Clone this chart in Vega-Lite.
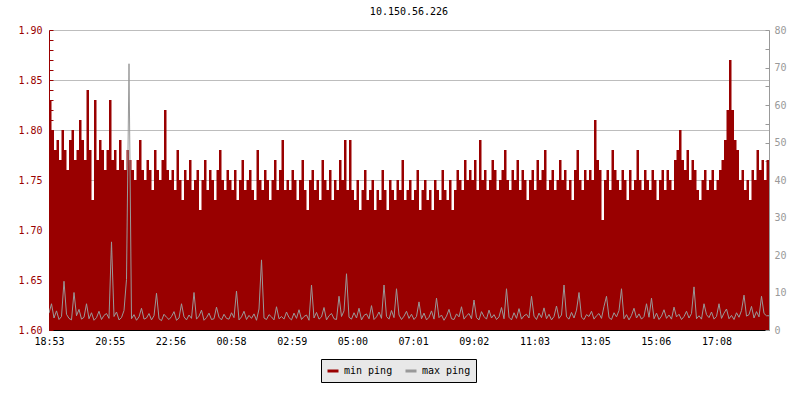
{
"$schema": "https://vega.github.io/schema/vega-lite/v6.json",
"width": 720,
"height": 300,
"padding": {"left": 17, "top": 7, "right": 5, "bottom": 5},
"background": "#ffffff",
"title": {"text": "10.150.56.226", "font": "DejaVu Sans Mono", "fontSize": 10, "fontWeight": "normal", "color": "#000000", "offset": 8},
"config": {
  "view": {"stroke": null},
  "font": "DejaVu Sans Mono",
  "axis": {"labelFont": "DejaVu Sans Mono", "labelFontSize": 10, "title": null}
},
"data": {"values": [
{"t":0,"mn":1.83,"mx":4.5},{"t":1,"mn":1.80,"mx":7},{"t":2,"mn":1.78,"mx":3.2},{"t":3,"mn":1.79,"mx":5.1},{"t":4,"mn":1.77,"mx":2.8},{"t":5,"mn":1.80,"mx":3.6},{"t":6,"mn":1.78,"mx":13},{"t":7,"mn":1.76,"mx":4.2},{"t":8,"mn":1.79,"mx":3.1},{"t":9,"mn":1.80,"mx":2.7},{"t":10,"mn":1.77,"mx":10},{"t":11,"mn":1.78,"mx":3.8},{"t":12,"mn":1.81,"mx":5.5},{"t":13,"mn":1.79,"mx":2.9},{"t":14,"mn":1.77,"mx":3.4},{"t":15,"mn":1.84,"mx":7},{"t":16,"mn":1.78,"mx":3.0},{"t":17,"mn":1.73,"mx":4.6},{"t":18,"mn":1.83,"mx":2.6},{"t":19,"mn":1.77,"mx":3.3},{"t":20,"mn":1.79,"mx":5.0},{"t":21,"mn":1.78,"mx":2.8},{"t":22,"mn":1.76,"mx":3.9},{"t":23,"mn":1.78,"mx":4.4},
{"t":24,"mn":1.83,"mx":3.1},{"t":25,"mn":1.77,"mx":23.5},{"t":26,"mn":1.78,"mx":3.6},{"t":27,"mn":1.76,"mx":4.8},{"t":28,"mn":1.79,"mx":2.7},{"t":29,"mn":1.77,"mx":3.3},{"t":30,"mn":1.76,"mx":5.2},{"t":31,"mn":1.78,"mx":13.5},{"t":32,"mn":1.77,"mx":71},{"t":33,"mn":1.76,"mx":3.0},{"t":34,"mn":1.75,"mx":4.1},{"t":35,"mn":1.77,"mx":2.6},{"t":36,"mn":1.79,"mx":3.5},{"t":37,"mn":1.76,"mx":5.8},{"t":38,"mn":1.75,"mx":2.9},{"t":39,"mn":1.77,"mx":3.2},{"t":40,"mn":1.76,"mx":4.4},{"t":41,"mn":1.74,"mx":2.7},{"t":42,"mn":1.78,"mx":3.8},{"t":43,"mn":1.76,"mx":9.8},{"t":44,"mn":1.75,"mx":3.0},{"t":45,"mn":1.77,"mx":2.5},{"t":46,"mn":1.82,"mx":4.2},{"t":47,"mn":1.76,"mx":3.4},
{"t":48,"mn":1.75,"mx":2.8},{"t":49,"mn":1.76,"mx":3.6},{"t":50,"mn":1.74,"mx":4.9},{"t":51,"mn":1.78,"mx":2.6},{"t":52,"mn":1.75,"mx":3.2},{"t":53,"mn":1.73,"mx":7},{"t":54,"mn":1.76,"mx":3.5},{"t":55,"mn":1.75,"mx":2.7},{"t":56,"mn":1.77,"mx":4.0},{"t":57,"mn":1.74,"mx":3.1},{"t":58,"mn":1.75,"mx":10},{"t":59,"mn":1.76,"mx":2.9},{"t":60,"mn":1.72,"mx":3.7},{"t":61,"mn":1.75,"mx":5.3},{"t":62,"mn":1.77,"mx":2.6},{"t":63,"mn":1.74,"mx":3.3},{"t":64,"mn":1.76,"mx":4.5},{"t":65,"mn":1.75,"mx":2.8},{"t":66,"mn":1.73,"mx":3.0},{"t":67,"mn":1.76,"mx":6.1},{"t":68,"mn":1.78,"mx":3.4},{"t":69,"mn":1.75,"mx":2.7},{"t":70,"mn":1.74,"mx":4.2},{"t":71,"mn":1.76,"mx":3.1},
{"t":72,"mn":1.75,"mx":2.9},{"t":73,"mn":1.74,"mx":4.6},{"t":74,"mn":1.76,"mx":3.3},{"t":75,"mn":1.73,"mx":10.4},{"t":76,"mn":1.75,"mx":2.7},{"t":77,"mn":1.77,"mx":3.5},{"t":78,"mn":1.74,"mx":5.0},{"t":79,"mn":1.75,"mx":2.8},{"t":80,"mn":1.76,"mx":3.9},{"t":81,"mn":1.74,"mx":3.1},{"t":82,"mn":1.73,"mx":4.3},{"t":83,"mn":1.78,"mx":2.6},{"t":84,"mn":1.75,"mx":5.6},{"t":85,"mn":1.74,"mx":18.7},{"t":86,"mn":1.76,"mx":3.2},{"t":87,"mn":1.75,"mx":2.8},{"t":88,"mn":1.73,"mx":4.1},{"t":89,"mn":1.75,"mx":3.5},{"t":90,"mn":1.77,"mx":2.7},{"t":91,"mn":1.74,"mx":6.2},{"t":92,"mn":1.76,"mx":3.0},{"t":93,"mn":1.79,"mx":3.6},{"t":94,"mn":1.74,"mx":2.9},{"t":95,"mn":1.75,"mx":4.8},
{"t":96,"mn":1.74,"mx":3.3},{"t":97,"mn":1.76,"mx":2.7},{"t":98,"mn":1.75,"mx":4.5},{"t":99,"mn":1.73,"mx":3.1},{"t":100,"mn":1.75,"mx":5.4},{"t":101,"mn":1.77,"mx":2.8},{"t":102,"mn":1.74,"mx":3.6},{"t":103,"mn":1.72,"mx":4.0},{"t":104,"mn":1.75,"mx":2.6},{"t":105,"mn":1.76,"mx":12},{"t":106,"mn":1.74,"mx":3.2},{"t":107,"mn":1.75,"mx":4.7},{"t":108,"mn":1.73,"mx":2.9},{"t":109,"mn":1.77,"mx":3.5},{"t":110,"mn":1.75,"mx":6.0},{"t":111,"mn":1.74,"mx":2.7},{"t":112,"mn":1.76,"mx":3.8},{"t":113,"mn":1.73,"mx":4.4},{"t":114,"mn":1.75,"mx":3.0},{"t":115,"mn":1.74,"mx":2.8},{"t":116,"mn":1.77,"mx":9},{"t":117,"mn":1.75,"mx":3.6},{"t":118,"mn":1.79,"mx":5.1},{"t":119,"mn":1.74,"mx":15},
{"t":120,"mn":1.79,"mx":3.4},{"t":121,"mn":1.74,"mx":2.9},{"t":122,"mn":1.73,"mx":4.6},{"t":123,"mn":1.75,"mx":3.2},{"t":124,"mn":1.72,"mx":5.8},{"t":125,"mn":1.74,"mx":2.7},{"t":126,"mn":1.76,"mx":3.9},{"t":127,"mn":1.73,"mx":4.3},{"t":128,"mn":1.74,"mx":3.0},{"t":129,"mn":1.75,"mx":6.5},{"t":130,"mn":1.72,"mx":2.8},{"t":131,"mn":1.74,"mx":3.5},{"t":132,"mn":1.73,"mx":4.8},{"t":133,"mn":1.76,"mx":3.1},{"t":134,"mn":1.74,"mx":12},{"t":135,"mn":1.72,"mx":3.6},{"t":136,"mn":1.75,"mx":2.9},{"t":137,"mn":1.74,"mx":5.2},{"t":138,"mn":1.73,"mx":3.3},{"t":139,"mn":1.75,"mx":11},{"t":140,"mn":1.74,"mx":4.0},{"t":141,"mn":1.77,"mx":2.8},{"t":142,"mn":1.73,"mx":3.7},{"t":143,"mn":1.74,"mx":5.0},
{"t":144,"mn":1.75,"mx":3.1},{"t":145,"mn":1.73,"mx":4.2},{"t":146,"mn":1.74,"mx":2.8},{"t":147,"mn":1.76,"mx":3.6},{"t":148,"mn":1.72,"mx":7.5},{"t":149,"mn":1.74,"mx":3.0},{"t":150,"mn":1.75,"mx":4.5},{"t":151,"mn":1.73,"mx":2.7},{"t":152,"mn":1.74,"mx":3.4},{"t":153,"mn":1.72,"mx":5.1},{"t":154,"mn":1.75,"mx":2.9},{"t":155,"mn":1.74,"mx":8.5},{"t":156,"mn":1.73,"mx":3.3},{"t":157,"mn":1.76,"mx":4.0},{"t":158,"mn":1.74,"mx":2.6},{"t":159,"mn":1.73,"mx":3.7},{"t":160,"mn":1.75,"mx":5.5},{"t":161,"mn":1.72,"mx":3.0},{"t":162,"mn":1.74,"mx":2.8},{"t":163,"mn":1.76,"mx":4.3},{"t":164,"mn":1.75,"mx":3.5},{"t":165,"mn":1.74,"mx":6.2},{"t":166,"mn":1.77,"mx":2.9},{"t":167,"mn":1.75,"mx":3.8},
{"t":168,"mn":1.76,"mx":4.4},{"t":169,"mn":1.75,"mx":3.0},{"t":170,"mn":1.77,"mx":8},{"t":171,"mn":1.74,"mx":3.3},{"t":172,"mn":1.79,"mx":2.7},{"t":173,"mn":1.75,"mx":4.9},{"t":174,"mn":1.76,"mx":3.6},{"t":175,"mn":1.74,"mx":2.9},{"t":176,"mn":1.75,"mx":5.3},{"t":177,"mn":1.77,"mx":3.2},{"t":178,"mn":1.76,"mx":4.1},{"t":179,"mn":1.74,"mx":2.8},{"t":180,"mn":1.75,"mx":3.5},{"t":181,"mn":1.76,"mx":6.0},{"t":182,"mn":1.78,"mx":3.0},{"t":183,"mn":1.75,"mx":11},{"t":184,"mn":1.74,"mx":3.4},{"t":185,"mn":1.76,"mx":2.7},{"t":186,"mn":1.75,"mx":4.6},{"t":187,"mn":1.77,"mx":3.1},{"t":188,"mn":1.74,"mx":5.7},{"t":189,"mn":1.76,"mx":2.9},{"t":190,"mn":1.75,"mx":3.8},{"t":191,"mn":1.73,"mx":4.2},
{"t":192,"mn":1.75,"mx":3.2},{"t":193,"mn":1.76,"mx":9},{"t":194,"mn":1.74,"mx":3.7},{"t":195,"mn":1.77,"mx":2.8},{"t":196,"mn":1.75,"mx":4.5},{"t":197,"mn":1.76,"mx":3.3},{"t":198,"mn":1.78,"mx":5.9},{"t":199,"mn":1.74,"mx":3.0},{"t":200,"mn":1.75,"mx":4.2},{"t":201,"mn":1.76,"mx":2.7},{"t":202,"mn":1.74,"mx":3.6},{"t":203,"mn":1.75,"mx":6.4},{"t":204,"mn":1.77,"mx":3.1},{"t":205,"mn":1.75,"mx":4.0},{"t":206,"mn":1.76,"mx":12},{"t":207,"mn":1.74,"mx":3.5},{"t":208,"mn":1.75,"mx":2.9},{"t":209,"mn":1.73,"mx":4.7},{"t":210,"mn":1.76,"mx":3.2},{"t":211,"mn":1.78,"mx":5.3},{"t":212,"mn":1.75,"mx":10},{"t":213,"mn":1.74,"mx":3.4},{"t":214,"mn":1.76,"mx":2.8},{"t":215,"mn":1.75,"mx":4.1},
{"t":216,"mn":1.76,"mx":3.6},{"t":217,"mn":1.75,"mx":5.0},{"t":218,"mn":1.81,"mx":2.9},{"t":219,"mn":1.77,"mx":3.8},{"t":220,"mn":1.76,"mx":4.4},{"t":221,"mn":1.71,"mx":3.1},{"t":222,"mn":1.75,"mx":6.3},{"t":223,"mn":1.76,"mx":9},{"t":224,"mn":1.74,"mx":3.3},{"t":225,"mn":1.78,"mx":2.8},{"t":226,"mn":1.76,"mx":4.6},{"t":227,"mn":1.75,"mx":3.5},{"t":228,"mn":1.74,"mx":5.2},{"t":229,"mn":1.76,"mx":11},{"t":230,"mn":1.75,"mx":3.0},{"t":231,"mn":1.73,"mx":4.1},{"t":232,"mn":1.76,"mx":2.7},{"t":233,"mn":1.74,"mx":3.9},{"t":234,"mn":1.75,"mx":5.8},{"t":235,"mn":1.78,"mx":3.2},{"t":236,"mn":1.75,"mx":4.3},{"t":237,"mn":1.74,"mx":2.9},{"t":238,"mn":1.76,"mx":3.6},{"t":239,"mn":1.75,"mx":7},
{"t":240,"mn":1.74,"mx":3.4},{"t":241,"mn":1.76,"mx":8.5},{"t":242,"mn":1.75,"mx":3.0},{"t":243,"mn":1.73,"mx":4.5},{"t":244,"mn":1.75,"mx":2.8},{"t":245,"mn":1.76,"mx":3.7},{"t":246,"mn":1.74,"mx":5.4},{"t":247,"mn":1.76,"mx":3.1},{"t":248,"mn":1.75,"mx":4.0},{"t":249,"mn":1.74,"mx":2.9},{"t":250,"mn":1.77,"mx":6.1},{"t":251,"mn":1.78,"mx":3.5},{"t":252,"mn":1.80,"mx":4.2},{"t":253,"mn":1.77,"mx":2.8},{"t":254,"mn":1.76,"mx":3.6},{"t":255,"mn":1.78,"mx":5.0},{"t":256,"mn":1.75,"mx":3.2},{"t":257,"mn":1.77,"mx":4.4},{"t":258,"mn":1.76,"mx":11.5},{"t":259,"mn":1.74,"mx":3.0},{"t":260,"mn":1.73,"mx":3.8},{"t":261,"mn":1.75,"mx":2.9},{"t":262,"mn":1.76,"mx":7},{"t":263,"mn":1.74,"mx":4.1},
{"t":264,"mn":1.75,"mx":3.3},{"t":265,"mn":1.76,"mx":4.8},{"t":266,"mn":1.74,"mx":2.9},{"t":267,"mn":1.75,"mx":3.6},{"t":268,"mn":1.76,"mx":7},{"t":269,"mn":1.77,"mx":3.1},{"t":270,"mn":1.79,"mx":4.5},{"t":271,"mn":1.82,"mx":5.6},{"t":272,"mn":1.87,"mx":3.0},{"t":273,"mn":1.82,"mx":3.9},{"t":274,"mn":1.79,"mx":2.8},{"t":275,"mn":1.78,"mx":4.6},{"t":276,"mn":1.75,"mx":3.4},{"t":277,"mn":1.76,"mx":5.2},{"t":278,"mn":1.74,"mx":9.3},{"t":279,"mn":1.75,"mx":3.7},{"t":280,"mn":1.73,"mx":4.1},{"t":281,"mn":1.76,"mx":6.3},{"t":282,"mn":1.75,"mx":3.2},{"t":283,"mn":1.78,"mx":4.9},{"t":284,"mn":1.76,"mx":3.5},{"t":285,"mn":1.77,"mx":9},{"t":286,"mn":1.75,"mx":4.4},{"t":287,"mn":1.77,"mx":3.8},{"t":288,"mn":1.77,"mx":3.8}
]},
"layer": [
  {
    "mark": {"type": "area", "interpolate": "step-after", "clip": true},
    "encoding": {
      "x": {"field": "t", "type": "quantitative",
        "scale": {"domain": [0, 288], "nice": false, "zero": false},
        "axis": {
          "values": [0, 24.27, 48.55, 72.82, 97.09, 121.36, 145.64, 169.91, 194.18, 218.45, 242.73, 267],
          "labelExpr": "['18:53','20:55','22:56','00:58','02:59','05:00','07:01','09:02','11:03','13:05','15:06','17:08'][round(datum.value/24.27)]",
          "grid": false, "domainColor": "#000000", "tickColor": "#000000", "labelColor": "#000000",
          "tickSize": -5, "labelPadding": 11, "labelFlush": false, "labelOverlap": false
        }
      },
      "y": {"field": "mn", "type": "quantitative",
        "scale": {"domain": [1.6, 1.9], "nice": false, "zero": false},
        "axis": {
          "orient": "left",
          "values": [1.6,1.61,1.62,1.63,1.64,1.65,1.66,1.67,1.68,1.69,1.7,1.71,1.72,1.73,1.74,1.75,1.76,1.77,1.78,1.79,1.8,1.81,1.82,1.83,1.84,1.85,1.86,1.87,1.88,1.89,1.9],
          "format": ".2f",
          "labelExpr": "round(datum.value*100) % 5 == 0 ? datum.label : ''",
          "grid": true, "gridColor": "#bdbdbd",
          "gridOpacity": {"condition": {"test": "round(datum.value*100) % 5 == 0", "value": 1}, "value": 0},
          "domainColor": "#990000", "tickColor": "#990000", "labelColor": "#990000",
          "tickSize": -4, "labelPadding": 11, "labelOverlap": false
        }
      },
      "y2": {"datum": 1.6},
      "color": {"datum": "min ping", "type": "nominal",
        "scale": {"domain": ["min ping", "max ping"], "range": ["#990000", "#999999"]},
        "legend": {
          "title": null, "orient": "none", "legendX": 272, "legendY": 329, "direction": "horizontal",
          "fillColor": "#e8e8e8", "strokeColor": "#000000", "padding": 5, "cornerRadius": 0,
          "symbolType": "stroke", "symbolSize": 121, "symbolStrokeWidth": 3,
          "labelFont": "DejaVu Sans Mono", "labelFontSize": 10, "labelColor": "#000000",
          "labelOffset": 4, "columnPadding": 6,
          "labelExpr": "datum.label == 'max ping' ? datum.label + '\u00a0\u00a0\u00a0' : datum.label",
          "encode": {"symbols": {"update": {"stroke": {"scale": "color", "field": "value"}, "strokeWidth": {"value": 3}, "fill": {"value": "transparent"}}}}
        }
      }
    }
  },
  {
    "mark": {"type": "line", "interpolate": "linear", "strokeWidth": 1, "clip": true},
    "encoding": {
      "x": {"field": "t", "type": "quantitative"},
      "y": {"field": "mx", "type": "quantitative",
        "scale": {"domain": [0, 80], "nice": false, "zero": true},
        "axis": {
          "orient": "right",
          "values": [0,5,10,15,20,25,30,35,40,45,50,55,60,65,70,75,80],
          "labelExpr": "datum.value % 10 == 0 ? datum.label : ''",
          "grid": false,
          "domainColor": "#999999", "tickColor": "#999999", "labelColor": "#999999",
          "tickSize": -4, "labelPadding": 9, "labelOverlap": false
        }
      },
      "color": {"datum": "max ping", "type": "nominal"}
    }
  }
],
"resolve": {"scale": {"y": "independent"}}
}
